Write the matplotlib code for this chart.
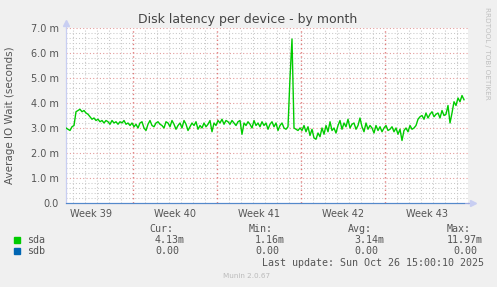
import numpy as np
import matplotlib
matplotlib.use('Agg')
import matplotlib.pyplot as plt
from matplotlib.patches import Rectangle

# sda average IO wait (milliseconds), one sample every 4 hours
sda = [3.0, 2.95, 2.9, 3.05, 3.1,
       3.65, 3.7,
       3.75, 3.65, 3.7, 3.6, 3.55,
       3.45, 3.35, 3.4, 3.3, 3.35,
       3.25, 3.3, 3.2, 3.3, 3.25,
       3.15, 3.3, 3.2, 3.25, 3.15,
       3.25, 3.2, 3.3, 3.15, 3.2,
       3.1, 3.2, 3.05, 3.15, 3.0,
       3.2, 3.25, 3.0, 2.9, 3.15,
       3.3, 3.1, 3.05, 3.2, 3.25,
       3.15, 3.1, 3.0, 3.25, 3.2,
       3.05, 3.3, 3.15, 2.95, 3.1,
       3.2, 3.0, 3.3, 3.15, 2.9,
       3.05, 3.2, 3.1, 3.25, 2.95,
       3.1, 3.0, 3.2, 3.05, 3.15,
       3.3, 2.85, 3.2, 3.1, 3.3,
       3.2, 3.35, 3.15, 3.3, 3.25,
       3.15, 3.3, 3.2, 3.1, 3.25,
       3.3, 2.75, 3.2, 3.1, 3.25,
       3.15, 3.0, 3.3, 3.1, 3.2,
       3.05, 3.25, 3.1, 3.2, 2.95,
       3.15, 3.25, 3.05, 3.2, 2.9,
       3.1, 3.2, 3.0, 2.95, 3.05,
       5.0, 6.56, 3.0,
       2.95, 2.9, 3.0, 2.9, 3.1,
       2.85, 3.05, 2.7, 2.95, 2.6,
       2.55, 2.8, 2.65, 3.0, 2.75,
       3.1, 2.85, 3.25, 2.9, 3.0,
       2.8, 3.1, 3.3, 2.95, 3.2,
       3.05, 3.35, 3.0, 3.15, 3.2,
       2.95, 3.1, 3.4, 3.05, 2.85,
       3.2, 2.95, 3.1, 3.0, 2.8,
       3.1, 2.9, 3.05, 2.85, 3.0,
       3.1, 2.9, 2.95, 3.05, 2.85,
       3.0, 2.75, 2.95, 2.5, 2.9,
       3.0, 2.85, 3.1, 2.95, 3.0,
       3.1, 3.35, 3.45, 3.5, 3.35,
       3.6, 3.4, 3.55, 3.65, 3.45,
       3.55, 3.6, 3.4, 3.7, 3.5,
       3.55, 3.9, 3.2, 3.6, 4.05,
       3.9, 4.2, 4.05, 4.3, 4.13]
sdb = [0.0] * len(sda)

week_labels = ['Week 39', 'Week 40', 'Week 41', 'Week 42', 'Week 43']
y_ticks = [0, 1, 2, 3, 4, 5, 6, 7]
y_labels = ['0.0', '1.0 m', '2.0 m', '3.0 m', '4.0 m', '5.0 m', '6.0 m', '7.0 m']

legend_names = ['sda', 'sdb']
legend_colors = ['#00CC00', '#0066B3']
cur = ['4.13m', '0.00']
mins = ['1.16m', '0.00']
avgs = ['3.14m', '0.00']
maxs = ['11.97m', '0.00']

W, H = 497, 287


def fx(x):
    return x / W


def fy(y):
    return 1 - y / H


fig = plt.figure(figsize=(W / 100, H / 100), dpi=100, facecolor='#F0F0F0')
ax = fig.add_axes([fx(66), fy(203), fx(468) - fx(66), fy(28) - fy(203)])
ax.set_facecolor('white')

days = np.arange(len(sda)) / 6.0
first_monday = 5.583
ax.set_xlim(0, 33.5)
ax.set_ylim(0, 7)

# grid: gray every day / 0.2 m, red every week / 1 m
for k in range(34):
    x = first_monday - 5 + k
    if (k - 5) % 7 != 0:
        ax.axvline(x, color='#C8C8C8', lw=0.75, ls=(0, (1, 2)), zorder=1)
for k in range(1, 35):
    if k % 5 != 0:
        ax.axhline(k * 0.2, color='#C8C8C8', lw=0.75, ls=(0, (1, 2)), zorder=1)
major_x = np.arange(first_monday, 33.5, 7.0)
for x in major_x:
    ax.axvline(x, color='#E07C7C', lw=1.0, ls=(0, (1, 2)), zorder=2)
for y in y_ticks[1:]:
    ax.axhline(y, color='#E49C9C', lw=0.8, ls=(0, (1, 2)), zorder=2)

ax.plot(days, sda, color=legend_colors[0], lw=1.0, zorder=4)
ax.plot(days, sdb, color=legend_colors[1], lw=0.8, alpha=0.45, zorder=4, clip_on=False)

for side in ['top', 'right']:
    ax.spines[side].set_visible(False)
ax.spines['left'].set_color('#C8CEF2')
ax.spines['bottom'].set_color('#9AA8E0')
ax.spines['left'].set_linewidth(0.9)
ax.spines['bottom'].set_linewidth(0.9)

# axis arrows
ax.plot([1.0, 1.01], [0, 0], color='#9AA8E0', lw=0.9, transform=ax.transAxes, clip_on=False)
ax.plot([1.012], [0], marker='>', ms=4, color='#C8CEF2', transform=ax.transAxes, clip_on=False)
ax.plot([0, 0], [1.0, 1.03], color='#C8CEF2', lw=0.9, transform=ax.transAxes, clip_on=False)
ax.plot([0], [1.03], marker='^', ms=4, color='#C8CEF2', transform=ax.transAxes, clip_on=False)

ax.set_yticks(y_ticks)
ax.set_yticklabels(y_labels)
ax.set_xticks(major_x[0] - 3.5 + 7.0 * np.arange(len(week_labels)))
ax.set_xticklabels(week_labels)
ax.tick_params(axis='both', length=0, labelsize=7, labelcolor='#555555')
ax.tick_params(axis='y', pad=5)
ax.tick_params(axis='x', pad=4)

fig.text(fx(248), fy(19), 'Disk latency per device - by month', ha='center', va='center',
         fontsize=9, color='#444444')
fig.text(fx(10), fy(115), 'Average IO Wait (seconds)', rotation=90, ha='center', va='center',
         fontsize=7.5, color='#555555')
fig.text(fx(487), fy(53), 'RRDTOOL / TOBI OETIKER', rotation=270, ha='center', va='center',
         fontsize=5.2, color='#C0C0C0')

# legend block
mono = dict(family='DejaVu Sans Mono', fontsize=7.2, color='#555555', va='center')
fig.text(fx(149), fy(229), 'Cur:', **mono)
fig.text(fx(249), fy(229), 'Min:', **mono)
fig.text(fx(348), fy(229), 'Avg:', **mono)
fig.text(fx(447), fy(229), 'Max:', **mono)
row_y = [240, 251]
for i, name in enumerate(legend_names):
    fig.patches.append(Rectangle((fx(14), fy(row_y[i] + 3)), fx(6), 6 / H,
                                 transform=fig.transFigure, color=legend_colors[i]))
    fig.text(fx(27), fy(row_y[i]), name, **mono)
    fig.text(fx(155), fy(row_y[i]), cur[i], **mono)
    fig.text(fx(255), fy(row_y[i]), mins[i], **mono)
    fig.text(fx(354), fy(row_y[i]), avgs[i], **mono)
    fig.text(fx(483 - 6 * len(maxs[i])) if i == 0 else fx(453), fy(row_y[i]), maxs[i], **mono)
fig.text(fx(262), fy(263), 'Last update: Sun Oct 26 15:00:10 2025', **mono)
fig.text(fx(247), fy(276), 'Munin 2.0.67', ha='center', va='center', fontsize=5.2, color='#BBBBBB')

fig.savefig('out.png', dpi=100, facecolor=fig.get_facecolor())
